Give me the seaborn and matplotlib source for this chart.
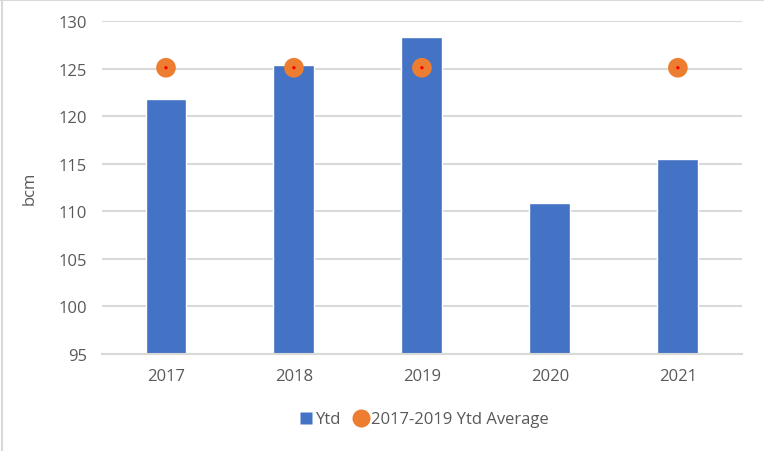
import matplotlib
matplotlib.use("Agg")
import matplotlib.pyplot as plt
from matplotlib.lines import Line2D
import seaborn as sns
import numpy as np
import pandas as pd

# data
years = ["2017", "2018", "2019", "2020", "2021"]
ytd = [121.8, 125.4, 128.3, 110.9, 115.5]
avg_2017_2019 = [125.1, 125.1, 125.1, np.nan, 125.1]

y_ticks = [95, 100, 105, 110, 115, 120, 125, 130]

BLUE = "#4472c4"
ORANGE = "#ed7d31"
GRID = "#d9d9d9"
TEXT = "#595959"

sns.set_theme(style="white")
plt.rcParams["font.family"] = ["Open Sans", "DejaVu Sans"]

df = pd.DataFrame({"year": years, "ytd": ytd, "avg": avg_2017_2019})

fig = plt.figure(figsize=(7.64, 4.52), dpi=100)
ax = fig.add_axes([0.1335, 0.2146, 0.8375, 0.7364])

sns.barplot(data=df, x="year", y="ytd", color=BLUE, saturation=1,
            width=0.32, ax=ax, zorder=2)
sns.scatterplot(data=df.dropna(), x="year", y="avg", s=200, color=ORANGE,
                edgecolor="none", ax=ax, zorder=3, legend=False)
sns.scatterplot(data=df.dropna(), x="year", y="avg", s=6, color="#ff0000",
                edgecolor="none", ax=ax, zorder=4, legend=False)

ax.set_ylim(95, 130)
ax.set_yticks(y_ticks)
ax.set_xlim(-0.5, 4.5)
ax.yaxis.grid(True, color=GRID, linewidth=1.5, zorder=0)
ax.set_axisbelow(True)
for side in ["top", "right", "left"]:
    ax.spines[side].set_visible(False)
ax.spines["bottom"].set_color(GRID)
ax.spines["bottom"].set_linewidth(1.5)
ax.tick_params(axis="both", length=0, labelsize=12, labelcolor=TEXT)
ax.tick_params(axis="y", pad=11)
ax.tick_params(axis="x", pad=10)
ax.set_xlabel("")
ax.set_ylabel("bcm", fontsize=12, color=TEXT, labelpad=15)

handles = [
    Line2D([], [], marker="s", linestyle="none", markersize=8,
           markerfacecolor=BLUE, markeredgecolor="none"),
    Line2D([], [], marker="o", linestyle="none", markersize=13,
           markerfacecolor=ORANGE, markeredgecolor="none"),
]
fig.legend(handles, ["Ytd", "2017-2019 Ytd Average"], loc="center",
           bbox_to_anchor=(0.553, 0.07), ncol=2, frameon=False,
           fontsize=12, labelcolor=TEXT, handletextpad=0.0,
           handlelength=1.2, columnspacing=0.6)

# thin border on the left and top like the source image
fig.add_artist(Line2D([0.002, 0.002], [0, 1], color=GRID, linewidth=1.5,
                      transform=fig.transFigure))
fig.add_artist(Line2D([0, 1], [0.998, 0.998], color=GRID, linewidth=1.5,
                      transform=fig.transFigure))

fig.savefig("out.png", dpi=100)
